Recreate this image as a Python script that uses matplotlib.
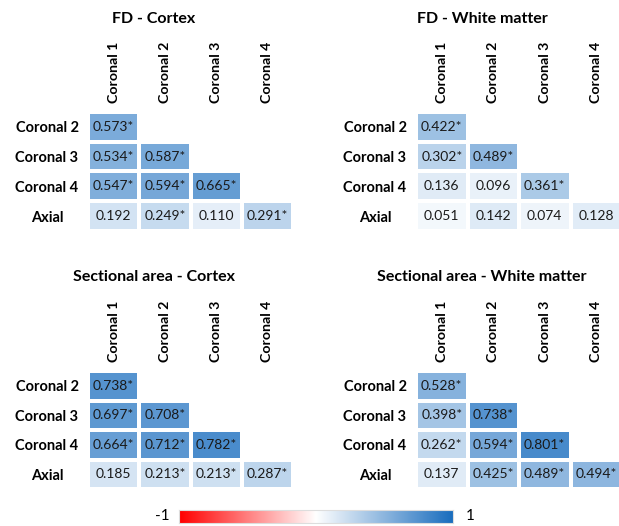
import matplotlib
matplotlib.use("Agg")
import matplotlib.pyplot as plt
import numpy as np
from matplotlib.colors import LinearSegmentedColormap

plt.rcParams["font.family"] = ["Lato", "DejaVu Sans"]

col_labels = ["Coronal 1", "Coronal 2", "Coronal 3", "Coronal 4"]
row_labels = ["Coronal 2", "Coronal 3", "Coronal 4", "Axial"]

titles = [
    "FD - Cortex",
    "FD - White matter",
    "Sectional area - Cortex",
    "Sectional area - White matter",
]

nan = np.nan
fd_cortex = [
    [0.573, nan, nan, nan],
    [0.534, 0.587, nan, nan],
    [0.547, 0.594, 0.665, nan],
    [0.192, 0.249, 0.110, 0.291],
]
fd_cortex_sig = [[1, 0, 0, 0], [1, 1, 0, 0], [1, 1, 1, 0], [0, 1, 0, 1]]

fd_white = [
    [0.422, nan, nan, nan],
    [0.302, 0.489, nan, nan],
    [0.136, 0.096, 0.361, nan],
    [0.051, 0.142, 0.074, 0.128],
]
fd_white_sig = [[1, 0, 0, 0], [1, 1, 0, 0], [0, 0, 1, 0], [0, 0, 0, 0]]

area_cortex = [
    [0.738, nan, nan, nan],
    [0.697, 0.708, nan, nan],
    [0.664, 0.712, 0.782, nan],
    [0.185, 0.213, 0.213, 0.287],
]
area_cortex_sig = [[1, 0, 0, 0], [1, 1, 0, 0], [1, 1, 1, 0], [0, 1, 1, 1]]

area_white = [
    [0.528, nan, nan, nan],
    [0.398, 0.738, nan, nan],
    [0.262, 0.594, 0.801, nan],
    [0.137, 0.425, 0.489, 0.494],
]
area_white_sig = [[1, 0, 0, 0], [1, 1, 0, 0], [1, 1, 1, 0], [0, 1, 1, 1]]

panels = [
    (fd_cortex, fd_cortex_sig),
    (fd_white, fd_white_sig),
    (area_cortex, area_cortex_sig),
    (area_white, area_white_sig),
]

cmap = LinearSegmentedColormap.from_list("rwb", ["#FF0000", "#FFFFFF", "#1A6DBE"])

W, H = 619, 526
fig = plt.figure(figsize=(W / 100, H / 100), dpi=100)

# axes boxes in pixels: left, top, right, bottom
boxes = [(88, 112, 293, 231), (416, 112, 622, 231),
         (88, 371, 293, 489), (416, 371, 622, 489)]
title_pos = [(154, 19), (482, 19), (154, 277), (482, 277)]

for (vals, sig), box, title, tpos in zip(panels, boxes, titles, title_pos):
    l, t, r, b = box
    ax = fig.add_axes([l / W, 1 - b / H, (r - l) / W, (b - t) / H])
    data = np.ma.masked_invalid(np.array(vals, dtype=float))
    ax.pcolormesh(data, cmap=cmap, vmin=-1, vmax=1,
                  edgecolors="white", linewidth=1.5)
    ax.set_xlim(0, 4)
    ax.set_ylim(4, 0)
    for i in range(4):
        for j in range(4):
            v = vals[i][j]
            if np.isnan(v):
                continue
            txt = f"{v:.3f}" + ("*" if sig[i][j] else "")
            ax.text(j + 0.5, i + 0.5, txt, ha="center", va="center",
                    fontsize=10, color="#1a1a1a")
    ax.xaxis.tick_top()
    ax.set_xticks(np.arange(4) + 0.5)
    ax.set_xticklabels(col_labels, rotation=90, fontsize=10.2,
                       fontweight="bold", va="bottom")
    ax.set_yticks(np.arange(4) + 0.5)
    ax.set_yticklabels(row_labels, fontsize=10.5, fontweight="bold", ha="center")
    ax.tick_params(axis="x", length=0, pad=6.5)
    ax.tick_params(axis="y", length=0, pad=29.5)
    for s in ax.spines.values():
        s.set_visible(False)
    fig.text(tpos[0] / W, 1 - tpos[1] / H, title, ha="center", va="center",
             fontsize=11.5, fontweight="bold")

cax = fig.add_axes([179 / W, 1 - 523 / H, 274 / W, 13 / H])
grad = np.linspace(-1, 1, 256).reshape(1, -1)
cax.imshow(grad, aspect="auto", cmap=cmap, vmin=-1, vmax=1,
           extent=[-1, 1, 0, 1])
cax.set_xticks([])
cax.set_yticks([])
for s in cax.spines.values():
    s.set_edgecolor("#dddddd")
    s.set_linewidth(0.8)
fig.text(162 / W, 1 - 516 / H, "-1", ha="center", va="center", fontsize=11)
fig.text(470 / W, 1 - 516 / H, "1", ha="center", va="center", fontsize=11)

fig.savefig("out.png", dpi=100)
